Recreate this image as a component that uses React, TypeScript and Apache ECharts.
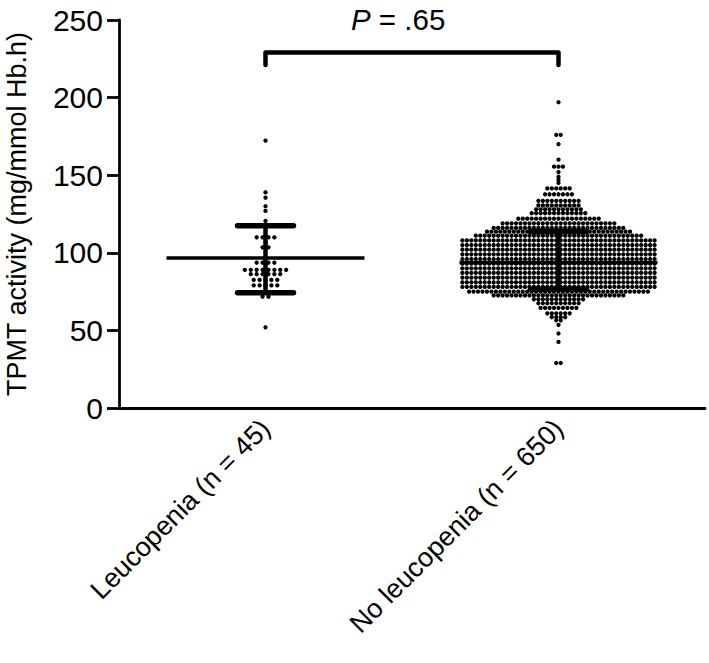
import React, { useEffect, useRef } from "react";
import * as echarts from "echarts";

const categories = ["Leucopenia (n = 45)", "No leucopenia (n = 650)"];

// [value, number of dots in that row]
const leucopeniaRows: [number, number][] = [
  [172.3, 1], [139, 1], [135.5, 1], [130, 1], [127, 1], [120.5, 1],
  [110, 4], [106.7, 1], [103.5, 2], [97, 1], [93.6, 4], [89, 8],
  [86.3, 6], [82.5, 5], [79, 5], [71.7, 2], [52, 1],
];

const noLeucopeniaRows: [number, number][] = [
  [197, 1], [176, 2], [170, 1], [160, 1], [155.5, 3], [152, 1], [149, 1],
  [147, 1], [145, 1], [141.5, 6], [137.7, 7], [133.5, 10], [130.5, 10],
  [128, 11], [125.5, 13], [122, 19], [119, 26], [116, 30], [113.6, 33],
  [111, 38], [108, 44], [105, 44], [102, 44], [99, 44], [96, 44], [93, 44],
  [90, 44], [87, 44], [84, 44], [81, 44], [78, 44], [75, 41], [72.5, 30],
  [70, 12], [67.5, 10], [64.5, 9], [61, 6], [58.5, 4], [56.5, 2], [53.5, 1],
  [48, 1], [42.6, 1], [29, 2],
];

const means = [96.6, 93.8];
const sdLow = [74.3, 76.5];
const sdHigh = [117.5, 113.7];
const bracketLow = 221;
const bracketHigh = 229;
const pLabel = ".65";

const FONT = "'Liberation Sans', Arial, Helvetica, sans-serif";

function buildDots(rows: [number, number][], catIndex: number, spacing: number) {
  const out: number[][] = [];
  rows.forEach(([v, n]) => {
    for (let i = 0; i < n; i++) {
      out.push([catIndex, v, (i - (n - 1) / 2) * spacing]);
    }
  });
  return out;
}

export default function App() {
  const ref = useRef<HTMLDivElement>(null);
  useEffect(() => {
    document.body.style.margin = "0";
    if (!ref.current) return;
    const chart = echarts.init(ref.current, undefined, { renderer: "svg" });
    const dots = [
      ...buildDots(leucopeniaRows, 0, 5.9),
      ...buildDots(noLeucopeniaRows, 1, 4.47),
    ];
    const stats = means.map((m, i) => [i, m, sdLow[i], sdHigh[i]]);
    const option: any = {
      animation: false,
      grid: { left: 119, right: 4, top: 20, bottom: 255, containLabel: false, outerBoundsMode: "none" },
      xAxis: {
        type: "category",
        data: categories,
        boundaryGap: true,
        axisLine: { lineStyle: { color: "#000", width: 2.8 } },
        axisTick: { alignWithLabel: true, length: 12, lineStyle: { color: "#000", width: 2.8 } },
        axisLabel: { rotate: 45, color: "#000", fontSize: 27, fontFamily: FONT, margin: 16, interval: 0 },
        splitLine: { show: false },
      },
      yAxis: {
        type: "value",
        min: 0,
        max: 250,
        interval: 50,
        name: "TPMT activity (mg/mmol Hb.h)",
        nameLocation: "middle",
        nameGap: 89,
        nameTextStyle: { color: "#000", fontSize: 27, fontFamily: FONT },
        axisLine: { show: true, lineStyle: { color: "#000", width: 2.8 } },
        axisTick: { show: true, length: 12, lineStyle: { color: "#000", width: 2.8 } },
        axisLabel: { color: "#000", fontSize: 30, fontFamily: FONT, margin: 16 },
        splitLine: { show: false },
      },
      series: [
        {
          type: "custom",
          data: dots,
          encode: { x: 0, y: 1 },
          z: 2,
          renderItem: (params: any, api: any) => {
            const p = api.coord([api.value(0), api.value(1)]);
            return {
              type: "circle",
              shape: { cx: p[0] + api.value(2), cy: p[1], r: 2.15 },
              style: { fill: "#000" },
            };
          },
        },
        {
          type: "custom",
          data: stats,
          encode: { x: 0, y: 1 },
          z: 3,
          renderItem: (params: any, api: any) => {
            const idx = api.value(0);
            const c = api.coord([idx, api.value(1)]);
            const lo = api.coord([idx, api.value(2)]);
            const hi = api.coord([idx, api.value(3)]);
            const black = { stroke: "#000", lineCap: "round" };
            return {
              type: "group",
              children: [
                { type: "line", shape: { x1: c[0] - 99, y1: c[1], x2: c[0] + 99, y2: c[1] }, style: { ...black, lineWidth: 3.5, lineCap: "butt" } },
                { type: "line", shape: { x1: c[0], y1: lo[1], x2: c[0], y2: hi[1] }, style: { ...black, lineWidth: 4.5 } },
                { type: "line", shape: { x1: c[0] - 28, y1: lo[1], x2: c[0] + 28, y2: lo[1] }, style: { ...black, lineWidth: 5.5 } },
                { type: "line", shape: { x1: c[0] - 28, y1: hi[1], x2: c[0] + 28, y2: hi[1] }, style: { ...black, lineWidth: 5.5 } },
              ],
            };
          },
        },
        {
          type: "custom",
          data: [[0, 1, bracketLow, bracketHigh]],
          encode: { x: 0, y: 2 },
          z: 3,
          renderItem: (params: any, api: any) => {
            const a = api.coord([api.value(0), api.value(2)]);
            const b = api.coord([api.value(0), api.value(3)]);
            const c = api.coord([api.value(1), api.value(3)]);
            const d = api.coord([api.value(1), api.value(2)]);
            return {
              type: "polyline",
              shape: { points: [[a[0], a[1]], [b[0], b[1]], [c[0], c[1]], [d[0], d[1]]] },
              style: { stroke: "#000", lineWidth: 4.5, fill: "none", lineJoin: "round", lineCap: "round" },
            };
          },
        },
      ],
      graphic: [
        {
          type: "text",
          left: 351,
          top: 4,
          style: {
            text: "{i|P} = " + pLabel,
            fill: "#000",
            font: "29.5px " + FONT,
            rich: {
              i: { fontStyle: "italic", fontSize: 29.5, fontFamily: FONT, fill: "#000" },
            },
          },
        },
      ],
    };
    chart.setOption(option);
    return () => chart.dispose();
  }, []);
  return <div ref={ref} style={{ width: 709, height: 663 }} />;
}
